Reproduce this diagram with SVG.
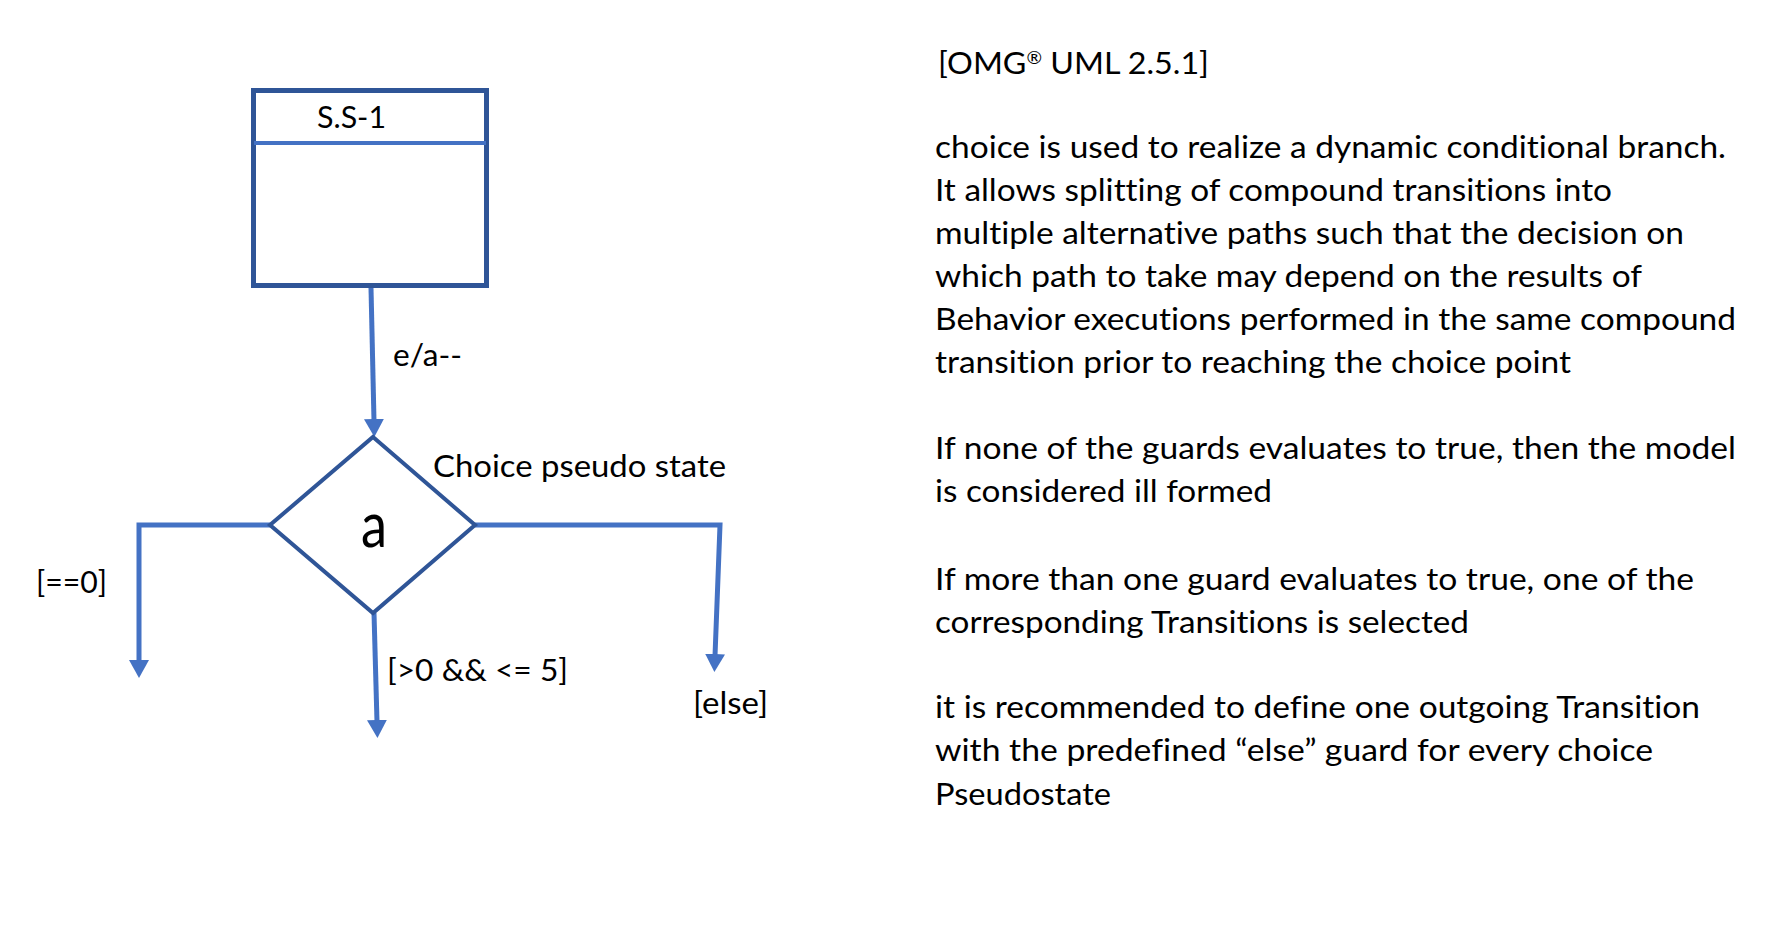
<svg xmlns="http://www.w3.org/2000/svg" width="1769" height="927" viewBox="0 0 1769 927">
<style>
text{font-family:Lato,"Open Sans","Noto Sans",sans-serif;font-size:31px;fill:#000;font-variant-ligatures:none}
.box{fill:#fff;stroke:#2F5597;stroke-width:5}
.div{stroke:#4472C4;stroke-width:4}
.dia{fill:#fff;stroke:#2F5597;stroke-width:4;stroke-linejoin:miter}
.con{fill:none;stroke:#4472C4;stroke-width:5;stroke-linejoin:miter}
</style>
<defs>
<marker id="arr" viewBox="0 -10 18 20" refX="2" refY="0" markerWidth="18" markerHeight="20" markerUnits="userSpaceOnUse" orient="auto">
<path d="M0,-10 L18,0 L0,10 z" fill="#4472C4"/>
</marker>
</defs>
<rect width="1769" height="927" fill="#fff"/>
<g id="connectors">
<path class="con" d="M371,288 L374,421" marker-end="url(#arr)"/>
<path class="con" d="M270,525 L139,525 L139,662" marker-end="url(#arr)"/>
<path class="con" d="M374,613 L377,722" marker-end="url(#arr)"/>
<path class="con" d="M475,525 L720,525 L715,656" marker-end="url(#arr)"/>
<text x="393" y="366" textLength="69" lengthAdjust="spacingAndGlyphs">e/a--</text>
<text x="36" y="593" textLength="71" lengthAdjust="spacingAndGlyphs">[==0]</text>
<text x="387" y="681" textLength="181" lengthAdjust="spacingAndGlyphs">[&gt;0 &amp;&amp; &lt;= 5]</text>
<text x="693" y="714" textLength="75" lengthAdjust="spacingAndGlyphs">[else]</text>
</g>
<g id="state-ss1">
<rect class="box" x="253.5" y="90.5" width="233" height="195"/>
<line class="div" x1="254" y1="143" x2="486" y2="143"/>
<text x="317" y="128" textLength="69" lengthAdjust="spacingAndGlyphs">S.S-1</text>
</g>
<g id="choice">
<polygon class="dia" points="373,437 475,525 373,613 270,525"/>
<text x="361" y="547" style="font-size:62px" textLength="26" lengthAdjust="spacingAndGlyphs">a</text>
<text x="433" y="477" textLength="293" lengthAdjust="spacingAndGlyphs">Choice pseudo state</text>
</g>
<g id="notes">
<text x="938" y="74" textLength="271" lengthAdjust="spacingAndGlyphs">[OMG<tspan dy="-10" style="font-size:18px">®</tspan><tspan dy="10"> UML 2.5.1]</tspan></text>
<text x="935" y="158" textLength="791" lengthAdjust="spacingAndGlyphs">choice is used to realize a dynamic conditional branch.</text>
<text x="935" y="201" textLength="677" lengthAdjust="spacingAndGlyphs">It allows splitting of compound transitions into</text>
<text x="935" y="244" textLength="749" lengthAdjust="spacingAndGlyphs">multiple alternative paths such that the decision on</text>
<text x="935" y="287" textLength="707" lengthAdjust="spacingAndGlyphs">which path to take may depend on the results of</text>
<text x="935" y="330" textLength="801" lengthAdjust="spacingAndGlyphs">Behavior executions performed in the same compound</text>
<text x="935" y="373" textLength="636" lengthAdjust="spacingAndGlyphs">transition prior to reaching the choice point</text>
<text x="935" y="459" textLength="801" lengthAdjust="spacingAndGlyphs">If none of the guards evaluates to true, then the model</text>
<text x="935" y="502" textLength="337" lengthAdjust="spacingAndGlyphs">is considered ill formed</text>
<text x="935" y="590" textLength="759" lengthAdjust="spacingAndGlyphs">If more than one guard evaluates to true, one of the</text>
<text x="935" y="633" textLength="534" lengthAdjust="spacingAndGlyphs">corresponding Transitions is selected</text>
<text x="935" y="718" textLength="765" lengthAdjust="spacingAndGlyphs">it is recommended to define one outgoing Transition</text>
<text x="935" y="761" textLength="718" lengthAdjust="spacingAndGlyphs">with the predefined “else” guard for every choice</text>
<text x="935" y="805" textLength="176" lengthAdjust="spacingAndGlyphs">Pseudostate</text>
</g>
</svg>
